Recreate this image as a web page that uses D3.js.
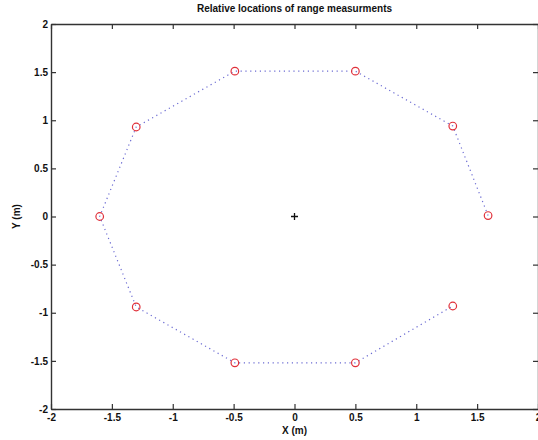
<!doctype html>
<html lang="en">
<head>
<meta charset="UTF-8">
<title>Relative locations of range measurments</title>
<style>
    body { margin: 0; background: #fff; }
    #chart text { font-family: "Liberation Sans", Arial, sans-serif; fill: #111; }
    #chart .tick text { font-size: 10px; font-weight: bold; }
    #chart .domain { stroke: #333; stroke-width: 1.4; }
    #chart .tick line { stroke: #333; stroke-width: 1.2; }
</style>
</head>
<body>
<svg id="chart" width="538" height="440"></svg>
<script src="https://cdn.jsdelivr.net/npm/d3@7"></script>
<script>
    // measurement positions, in path order (open between last and first)
    var xPos = [1.59, 1.3, 0.5, -0.49, -1.3, -1.6, -1.3, -0.49, 0.5, 1.3]
    var yPos = [0.01, 0.94, 1.51, 1.51, 0.93, 0, -0.94, -1.52, -1.52, -0.93]
    var centre = [0, 0]
    var xTicks = [-2, -1.5, -1, -0.5, 0, 0.5, 1, 1.5, 2]
    var yTicks = [-2, -1.5, -1, -0.5, 0, 0.5, 1, 1.5, 2]

    var padL = 51, padR = 538, padT = 24, padB = 409

    var svg = d3.select('#chart')
    var x = d3.scaleLinear().domain([-2, 2]).range([padL, padR])
    var y = d3.scaleLinear().domain([-2, 2]).range([padB, padT])
    var fmt = function(d) { return String(d) }

    svg.append('g').attr('transform', 'translate(0,' + padB + ')')
        .call(d3.axisBottom(x).tickValues(xTicks).tickFormat(fmt).tickSizeInner(-5).tickSizeOuter(0).tickPadding(5))
    svg.append('g').attr('transform', 'translate(0,' + padT + ')')
        .call(d3.axisTop(x).tickValues(xTicks).tickFormat('').tickSizeInner(-5).tickSizeOuter(0))
    svg.append('g').attr('transform', 'translate(' + padL + ',0)')
        .call(d3.axisLeft(y).tickValues(yTicks).tickFormat(fmt).tickSizeInner(-5).tickSizeOuter(0).tickPadding(3))
    svg.append('g').attr('transform', 'translate(' + padR + ',0)')
        .call(d3.axisRight(y).tickValues(yTicks).tickFormat('').tickSizeInner(-5).tickSizeOuter(0))

    var pts = xPos.map(function(d, i) { return { x: d, y: yPos[i] } })

    var line = d3.line()
        .x(function(d) { return x(d.x) })
        .y(function(d) { return y(d.y) })

    svg.append('path')
        .attr('d', line(pts))
        .attr('fill', 'none')
        .attr('stroke', '#6a6ad2')
        .attr('stroke-width', 1.2)
        .attr('stroke-dasharray', '1.2,3.6')

    svg.selectAll('circle.m').data(pts).enter().append('circle')
        .attr('class', 'm')
        .attr('cx', function(d) { return x(d.x) })
        .attr('cy', function(d) { return y(d.y) })
        .attr('r', 3.8)
        .attr('fill', 'none')
        .attr('stroke', '#e0303a')
        .attr('stroke-width', 1.2)

    // centre marker
    var cx = x(centre[0]), cy = y(centre[1])
    svg.append('path')
        .attr('d', 'M' + (cx - 3.5) + ',' + cy + 'h7M' + cx + ',' + (cy - 3.5) + 'v7')
        .attr('stroke', '#111').attr('stroke-width', 1.3)

    svg.append('text')
        .attr('x', x(0)).attr('y', 12)
        .attr('text-anchor', 'middle')
        .style('font-size', '10px').style('font-weight', 'bold')
        .text('Relative locations of range measurments')

    svg.append('text')
        .attr('x', x(0)).attr('y', 434)
        .attr('text-anchor', 'middle')
        .style('font-size', '10px').style('font-weight', 'bold')
        .text('X (m)')

    svg.append('text')
        .attr('transform', 'translate(20,' + y(0) + ') rotate(-90)')
        .attr('text-anchor', 'middle')
        .style('font-size', '10px').style('font-weight', 'bold')
        .text('Y (m)')
</script>
</body>
</html>
